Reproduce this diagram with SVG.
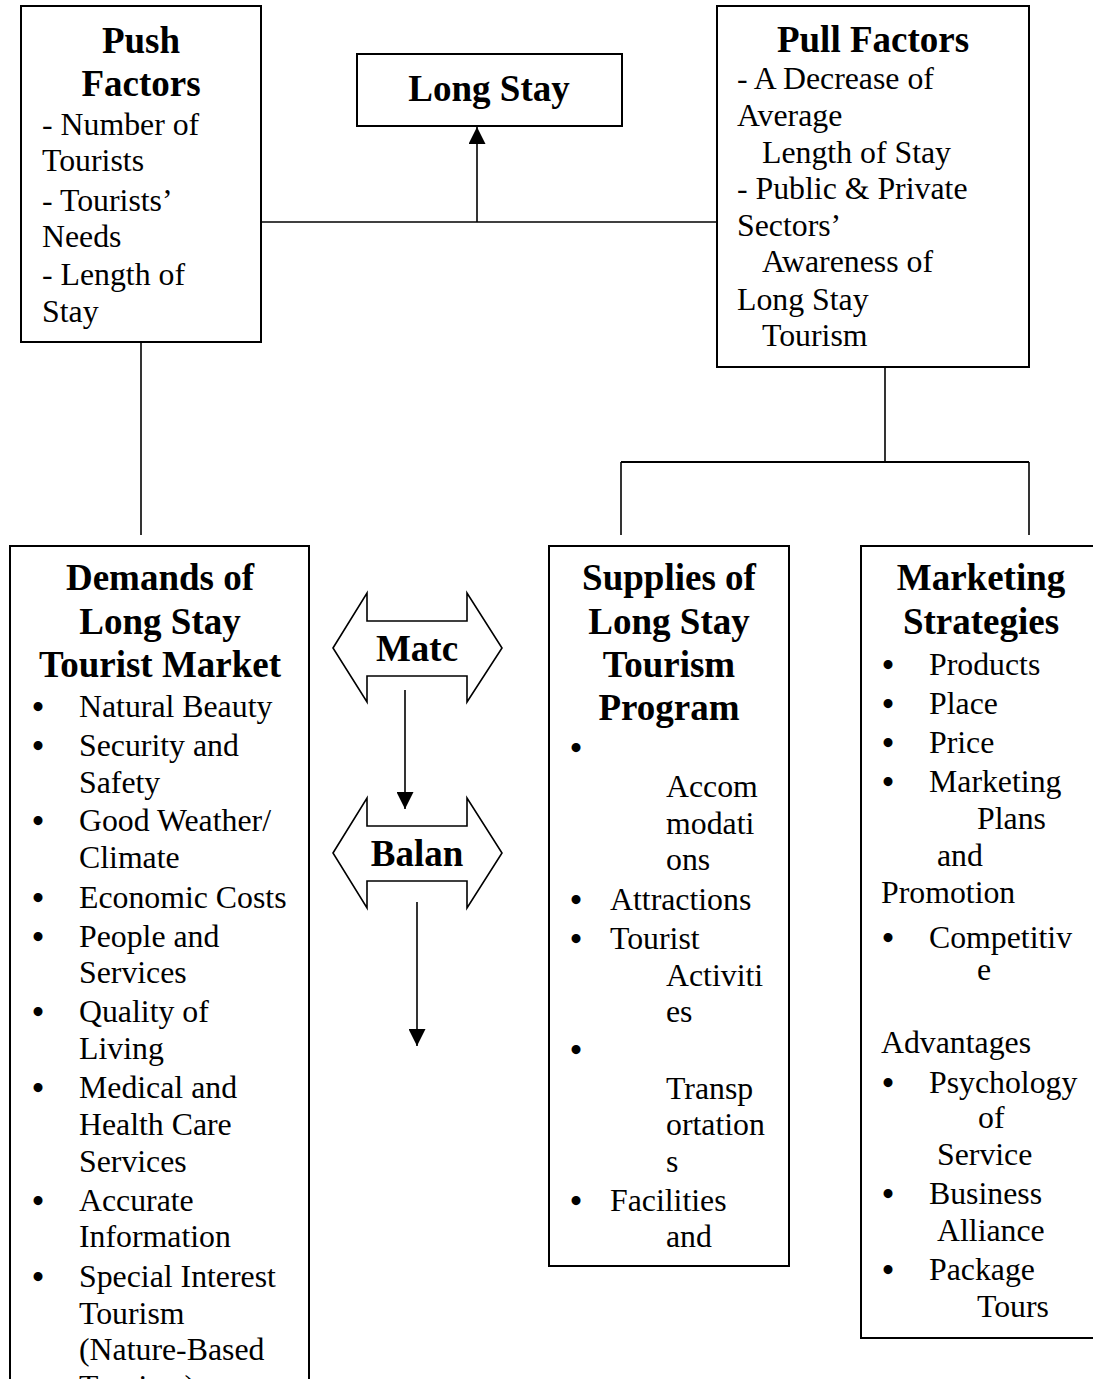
<svg xmlns="http://www.w3.org/2000/svg" width="1093" height="1379" viewBox="0 0 1093 1379">
<defs>
<style>
.box{fill:#fff;stroke:#000;stroke-width:2}
.ln{fill:none;stroke:#000;stroke-width:1.6}
.h{font-family:"Liberation Serif","Times New Roman",serif;font-weight:bold;font-size:37px;fill:#000;text-anchor:middle}
.t{font-family:"Liberation Serif","Times New Roman",serif;font-size:31.8px;fill:#000}
.t .bu{font-size:33px;font-weight:bold;text-anchor:middle}
.dbl{fill:#fff;stroke:#000;stroke-width:1.6}
</style>
<marker id="ah" viewBox="0 0 10 10" refX="10" refY="5" markerWidth="17" markerHeight="17" markerUnits="userSpaceOnUse" orient="auto">
<path d="M0,0 L10,5 L0,10 z" fill="#000"/>
</marker>
</defs>
<rect width="1093" height="1379" fill="#fff"/>

<g id="connectors">
<line class="ln" x1="141" y1="342" x2="141" y2="535"/>
<line class="ln" x1="261" y1="222" x2="717" y2="222"/>
<line class="ln" x1="477" y1="222" x2="477" y2="127" marker-end="url(#ah)"/>
<line class="ln" x1="885" y1="367" x2="885" y2="462"/>
<line class="ln" x1="621" y1="462" x2="1029" y2="462" style="stroke-width:2.2"/>
<line class="ln" x1="621" y1="462" x2="621" y2="535"/>
<line class="ln" x1="1029" y1="462" x2="1029" y2="535"/>
<line class="ln" x1="405" y1="690" x2="405" y2="809" marker-end="url(#ah)"/>
<line class="ln" x1="417" y1="902" x2="417" y2="1046" marker-end="url(#ah)"/>
</g>

<g id="push">
<rect class="box" x="21" y="6" width="240" height="336"/>
<text class="h" x="141" y="53">Push</text>
<text class="h" x="141" y="96">Factors</text>
<g class="t">
<text x="42" y="135">- Number of</text>
<text x="42" y="171">Tourists</text>
<text x="42" y="211">- Tourists’</text>
<text x="42" y="247">Needs</text>
<text x="42" y="285">- Length of</text>
<text x="42" y="322">Stay</text>
</g>
</g>

<g id="longstay">
<rect class="box" x="357" y="54" width="265" height="72"/>
<text class="h" x="489" y="101">Long Stay</text>
</g>

<g id="pull">
<rect class="box" x="717" y="6" width="312" height="361"/>
<text class="h" x="873" y="52">Pull Factors</text>
<g class="t">
<text x="737" y="89">- A Decrease of</text>
<text x="737" y="126">Average</text>
<text x="762" y="163">Length of Stay</text>
<text x="737" y="199">- Public &amp; Private</text>
<text x="737" y="236">Sectors’</text>
<text x="762" y="272">Awareness of</text>
<text x="737" y="310">Long Stay</text>
<text x="762" y="346">Tourism</text>
</g>
</g>

<g id="demands">
<rect class="box" x="10" y="546" width="299" height="900"/>
<text class="h" x="160" y="590">Demands of</text>
<text class="h" x="160" y="634">Long Stay</text>
<text class="h" x="160" y="677">Tourist Market</text>
<g class="t">
<text class="bu" x="38" y="718">•</text><text x="79" y="717">Natural Beauty</text>
<text class="bu" x="38" y="757">•</text><text x="79" y="756">Security and</text>
<text x="79" y="793">Safety</text>
<text class="bu" x="38" y="832">•</text><text x="79" y="831">Good Weather/</text>
<text x="79" y="868">Climate</text>
<text class="bu" x="38" y="909">•</text><text x="79" y="908">Economic Costs</text>
<text class="bu" x="38" y="948">•</text><text x="79" y="947">People and</text>
<text x="79" y="983">Services</text>
<text class="bu" x="38" y="1023">•</text><text x="79" y="1022">Quality of</text>
<text x="79" y="1059">Living</text>
<text class="bu" x="38" y="1099">•</text><text x="79" y="1098">Medical and</text>
<text x="79" y="1135">Health Care</text>
<text x="79" y="1172">Services</text>
<text class="bu" x="38" y="1212">•</text><text x="79" y="1211">Accurate</text>
<text x="79" y="1247">Information</text>
<text class="bu" x="38" y="1288">•</text><text x="79" y="1287">Special Interest</text>
<text x="79" y="1324">Tourism</text>
<text x="79" y="1360">(Nature-Based</text>
<text x="79" y="1397">Tourism)</text>
</g>
</g>

<g id="match">
<path class="dbl" d="M333,648 L367,593 L367,621 L467,621 L467,593 L502,648 L467,702 L467,676 L367,676 L367,702 Z"/>
<text class="h" x="417" y="661">Matc</text>
</g>

<g id="balance">
<path class="dbl" d="M333,853 L367,798 L367,826 L467,826 L467,798 L502,853 L467,908 L467,881 L367,881 L367,908 Z"/>
<text class="h" x="417" y="866">Balan</text>
</g>

<g id="supplies">
<rect class="box" x="549" y="546" width="240" height="720"/>
<text class="h" x="669" y="590">Supplies of</text>
<text class="h" x="669" y="634">Long Stay</text>
<text class="h" x="669" y="677">Tourism</text>
<text class="h" x="669" y="720">Program</text>
<g class="t">
<text class="bu" x="576" y="759">•</text>
<text x="666" y="797">Accom</text>
<text x="666" y="834">modati</text>
<text x="666" y="870">ons</text>
<text class="bu" x="576" y="911">•</text><text x="610" y="910">Attractions</text>
<text class="bu" x="576" y="950">•</text><text x="610" y="949">Tourist</text>
<text x="666" y="986">Activiti</text>
<text x="666" y="1022">es</text>
<text class="bu" x="576" y="1061">•</text>
<text x="666" y="1099">Transp</text>
<text x="666" y="1135">ortation</text>
<text x="666" y="1172">s</text>
<text class="bu" x="576" y="1212">•</text><text x="610" y="1211">Facilities</text>
<text x="666" y="1247">and</text>
</g>
</g>

<g id="marketing">
<rect class="box" x="861" y="546" width="240" height="792"/>
<text class="h" x="981" y="590">Marketing</text>
<text class="h" x="981" y="634">Strategies</text>
<g class="t">
<text class="bu" x="888" y="676">•</text><text x="929" y="675">Products</text>
<text class="bu" x="888" y="715">•</text><text x="929" y="714">Place</text>
<text class="bu" x="888" y="754">•</text><text x="929" y="753">Price</text>
<text class="bu" x="888" y="793">•</text><text x="929" y="792">Marketing</text>
<text x="977" y="829">Plans</text>
<text x="937" y="866">and</text>
<text x="881" y="903">Promotion</text>
<text class="bu" x="888" y="949">•</text><text x="929" y="948">Competitiv</text>
<text x="977" y="980">e</text>
<text x="881" y="1053">Advantages</text>
<text class="bu" x="888" y="1094">•</text><text x="929" y="1093">Psychology</text>
<text x="978" y="1128">of</text>
<text x="937" y="1165">Service</text>
<text class="bu" x="888" y="1205">•</text><text x="929" y="1204">Business</text>
<text x="937" y="1241">Alliance</text>
<text class="bu" x="888" y="1281">•</text><text x="929" y="1280">Package</text>
<text x="977" y="1317">Tours</text>
</g>
</g>
</svg>
